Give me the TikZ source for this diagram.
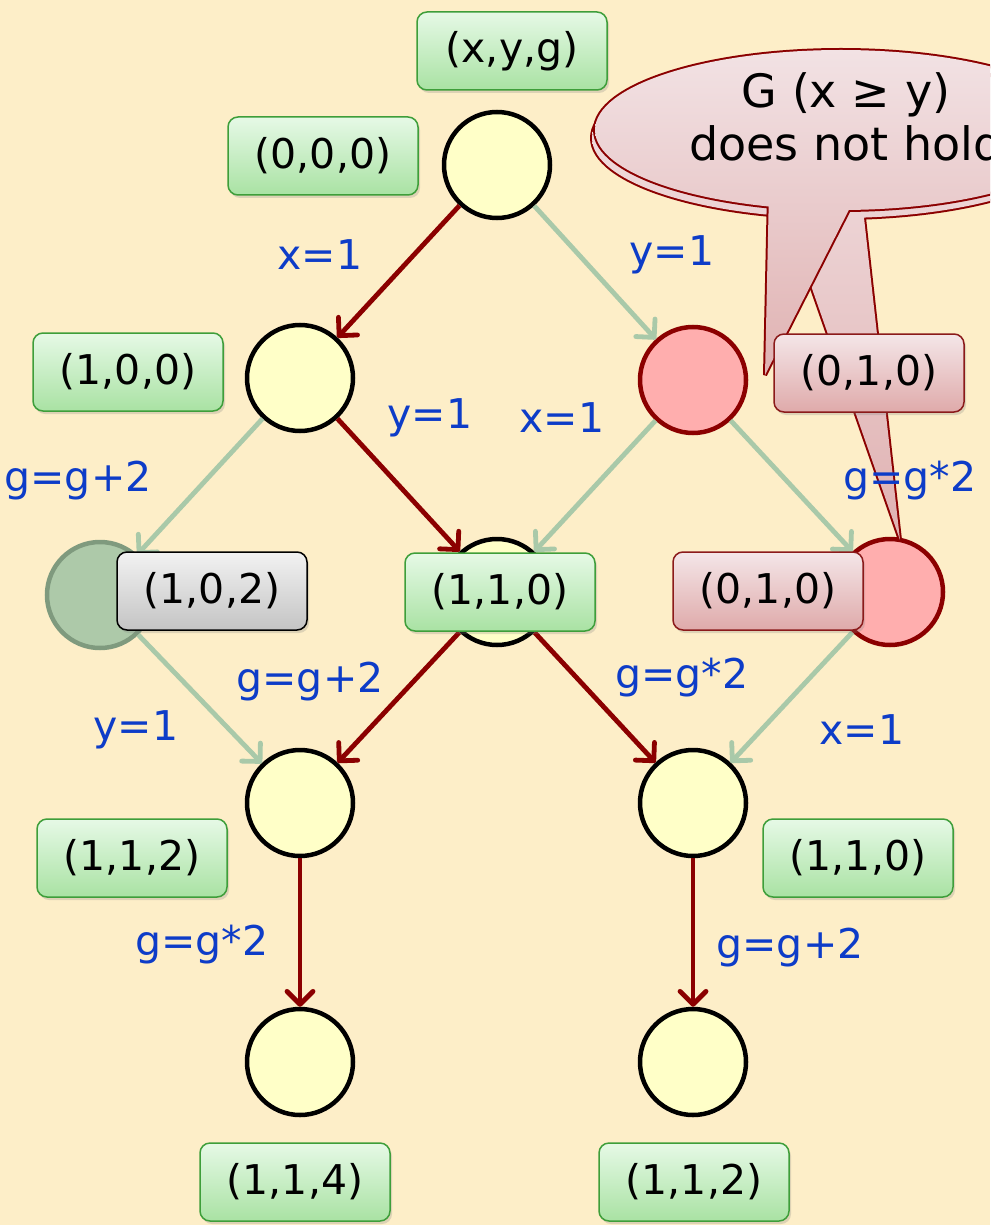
\documentclass[tikz,border=0pt]{standalone}
\usepackage{fontspec}
\setmainfont{DejaVu Sans}
\usetikzlibrary{arrows.meta,shadows}
\definecolor{bg}{HTML}{FDEEC8}
\definecolor{cYel}{HTML}{FFFFC8}
\definecolor{cRedFill}{HTML}{FFAEAE}
\definecolor{dred}{HTML}{8B0000}
\definecolor{cGrayFill}{HTML}{ADC9A9}
\definecolor{cGrayDraw}{HTML}{7F9A7E}
\definecolor{pale}{HTML}{A9C9A9}
\definecolor{eblue}{HTML}{0D3CC8}
\definecolor{gTop}{HTML}{E6F9E6}
\definecolor{gBot}{HTML}{A9E2A3}
\definecolor{gBorder}{HTML}{3E9E3A}
\definecolor{rTop}{HTML}{F4E6E8}
\definecolor{rBot}{HTML}{DFAAAA}
\definecolor{rBorder}{HTML}{8B1A1A}
\definecolor{grTop}{HTML}{F2F2F2}
\definecolor{grBot}{HTML}{C4C4C4}
\definecolor{calTop}{HTML}{F2E2E4}
\definecolor{calBot}{HTML}{E0B2B2}
\begin{document}
\begin{tikzpicture}[x=0.5pt,y=-0.5pt,
  lab/.style={rounded corners=5pt, minimum width=95pt, minimum height=39pt, inner sep=0pt,
    draw, line width=0.75pt, font=\fontsize{20.5}{24}\selectfont,
    drop shadow={opacity=0.25, shadow xshift=1pt, shadow yshift=-1.5pt}},
  glab/.style={lab, top color=gTop, bottom color=gBot, draw=gBorder},
  rlab/.style={lab, top color=rTop, bottom color=rBot, draw=rBorder},
  graylab/.style={lab, top color=grTop, bottom color=grBot, draw=black},
  elab/.style={text=eblue, inner sep=0pt, font=\fontsize{20.5}{24}\selectfont},
  st/.style={circle, minimum size=53pt, inner sep=0pt, line width=2.25pt, draw=black, fill=cYel},
  rst/.style={st, draw=dred, fill=cRedFill},
  gst/.style={st, draw=cGrayDraw, fill=cGrayFill},
  tipstyle/.style={-{Straight Barb[round,length=6.5pt,width=13pt]}},
  redE/.style={draw=dred, line width=2.4pt, tipstyle},
  paleE/.style={draw=pale, line width=2.4pt, tipstyle}
]
\useasboundingbox (0,0) rectangle (990,1225);
\fill[bg] (0,0) rectangle (990,1225);
\clip (0,0) rectangle (990,1225);

% states
\node[st]  (root) at (497,165) {};
\node[st]  (a)    at (300,378) {};
\node[rst] (b)    at (693,380) {};
\node[gst] (c)    at (100,595) {};
\node[st]  (d)    at (497,592) {};
\node[rst] (e)    at (890,592) {};
\node[st]  (f)    at (300,803) {};
\node[st]  (g)    at (693,803) {};
\node[st]  (h)    at (300,1062) {};
\node[st]  (i)    at (693,1062) {};

% transitions
\draw[redE]  (root) -- (a);
\draw[paleE] (root) -- (b);
\draw[paleE] (a) -- (c);
\draw[redE]  (a) -- (d);
\draw[paleE] (b) -- (d);
\draw[paleE] (b) -- (e);
\draw[paleE] (c) -- (f);
\draw[redE]  (d) -- (f);
\draw[redE]  (d) -- (g);
\draw[paleE] (e) -- (g);
\draw[redE]  (f) -- (h);
\draw[redE]  (g) -- (i);

% callout (back layer)
\draw[line width=2pt, dred, miter limit=4] (838,138) ellipse [x radius=123pt, y radius=40pt]
  (781,200) -- (900,540) -- (862,200) -- cycle;
\shade[top color=calTop, bottom color=calBot] (838,138) ellipse [x radius=123pt, y radius=40pt]
  (781,200) -- (900,540) -- (862,200) -- cycle;
% callout (front layer)
\draw[line width=2pt, dred, miter limit=4] (841,130) ellipse [x radius=123pt, y radius=40pt]
  (769,190) -- (765,375) -- (859,190) -- cycle;
\shade[top color=calTop, bottom color=calBot] (841,130) ellipse [x radius=123pt, y radius=40pt]
  (769,190) -- (765,375) -- (859,190) -- cycle;
\node[align=center, font=\fontsize{23}{26.5}\selectfont, inner sep=0pt] (callt) at (846,117)
  {G (x ≥ y)\\does not hold};

% edge labels
\node[elab] (l1) at (320,255) {x=1};
\node[elab] (l2) at (672,255) {y=1};
\node[elab] (l3) at (430,418) {y=1};
\node[elab] (l4) at (562,418) {x=1};
\node[elab] (l5) at (78,481) {g=g+2};
\node[elab] (l6) at (910,481) {g=g*2};
\node[elab] (l7) at (310,682) {g=g+2};
\node[elab] (l8) at (682,678) {g=g*2};
\node[elab] (l9) at (136,730) {y=1};
\node[elab] (l10) at (862,730) {x=1};
\node[elab] (l11) at (202,945) {g=g*2};
\node[elab] (l12) at (790,948) {g=g+2};

% valuation labels
\node[glab]    (vh)   at (512,51)  {(x,y,g)};
\node[glab]    (v0)   at (323,156) {(0,0,0)};
\node[glab]    (va)   at (128,372) {(1,0,0)};
\node[rlab]    (vb)   at (869,373) {(0,1,0)};
\node[graylab] (vc)   at (212,591) {(1,0,2)};
\node[glab]    (vd)   at (500,592) {(1,1,0)};
\node[rlab]    (ve)   at (768,591) {(0,1,0)};
\node[glab]    (vf)   at (132,858) {(1,1,2)};
\node[glab]    (vg)   at (858,858) {(1,1,0)};
\node[glab]    (vh2)  at (295,1182) {(1,1,4)};
\node[glab]    (vi)   at (694,1182) {(1,1,2)};
\end{tikzpicture}
\end{document}
